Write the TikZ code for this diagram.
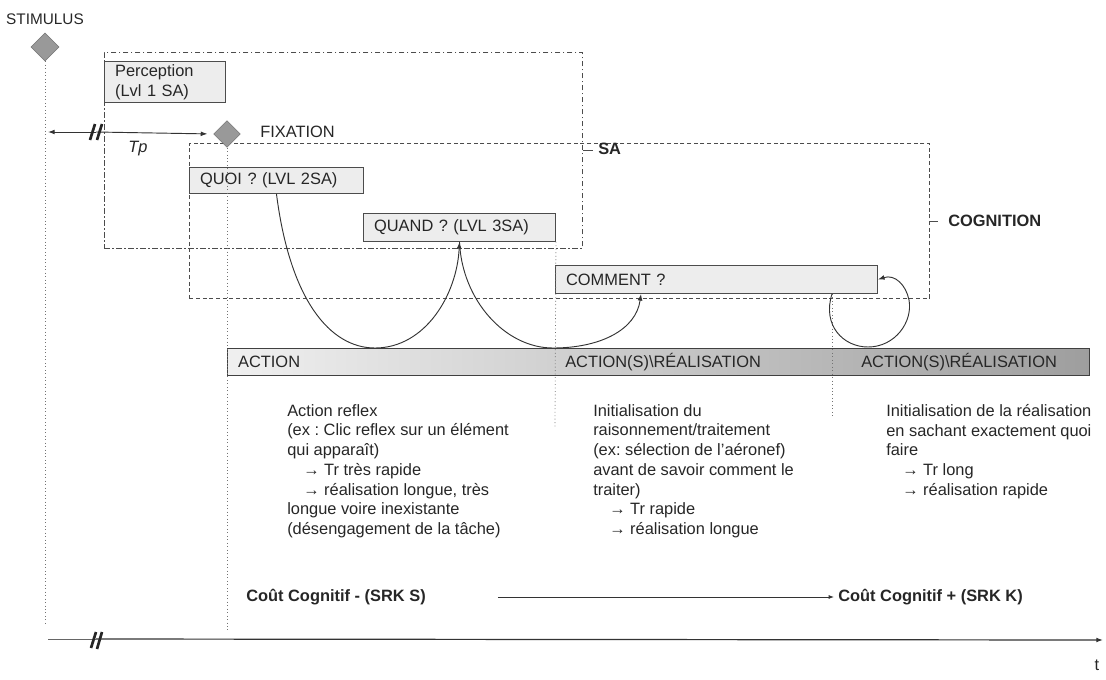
\documentclass[tikz,border=0pt]{standalone}
\usepackage{fontspec}
\setmainfont{Liberation Sans}
\usetikzlibrary{shapes.geometric,arrows.meta,calc}
\frenchspacing
\begin{document}
\begin{tikzpicture}[x=0.75pt,y=-0.75pt,
  every node/.style={font=\fontsize{12.3}{14.8}\selectfont\frenchspacing, text=black!85},
  lbox/.style={draw=black!70, line width=0.7pt, fill=black!7, anchor=north west, inner xsep=8pt, inner ysep=0pt, align=left},
  frame/.style={draw=black!70, line width=0.7pt, anchor=north west, inner sep=0pt},
  dia/.style={diamond, draw=black!55, fill=black!40, inner sep=0pt, minimum width=21pt, minimum height=21pt},
  vdot/.style={draw=black!55, dotted, line width=0.6pt},
  conn/.style={draw=black!80, line width=0.7pt},
  tip/.style={-{Latex[length=5pt,width=3.6pt]}},
  brk/.style={line width=2pt, draw=black!85},
  boldlbl/.style={font=\fontsize{12.3}{14.8}\selectfont\bfseries},
  body/.style={anchor=north west, inner sep=0pt, align=left},
]
\useasboundingbox (0,0) rectangle (1106,679);

% frames
\node[frame, dash pattern=on 4pt off 2pt on 1pt off 2pt, minimum width=358.5pt, minimum height=147pt] (saf) at (104,52) {};
\node[frame, dash pattern=on 3pt off 2pt, minimum width=555pt, minimum height=116.25pt] (cogf) at (189,143) {};
\draw[draw=black!70, line width=0.7pt] (saf.east) -- ++(10,0);
\draw[draw=black!70, line width=0.7pt] (cogf.east) -- ++(8,0);
\node[boldlbl, anchor=west, inner sep=0pt] (salbl) at (598,149) {SA};
\node[boldlbl, anchor=west, inner sep=0pt] (coglbl) at (948,221) {COGNITION};

% diamonds and top labels
\node[dia] (stim) at (45,47) {};
\node[font=\fontsize{11.5}{14}\selectfont] (stimlbl) at (45,19) {STIMULUS};
\node[dia, minimum width=20pt, minimum height=20pt] (fix) at (227,134) {};
\node[anchor=west, inner sep=0pt] (fixlbl) at (260,132) {FIXATION};

% boxes
\node[lbox, text width=75pt, minimum height=30.75pt] (perc) at (104,61) {Perception\\(Lvl 1 SA)};
\node[lbox, text width=114.5pt, minimum height=19.5pt] (quoi) at (189,167) {QUOI ? (LVL 2SA)};
\node[lbox, text width=128pt, minimum height=21pt] (quand) at (363,213) {QUAND ? (LVL 3SA)};
\node[lbox, text width=225.5pt, minimum height=21pt] (comment) at (555,265) {COMMENT ?};
\node[lbox, draw=black!75, shading=axis, left color=black!6, right color=black!38, text width=630.5pt, minimum height=20.25pt] (bar) at (227,348) {ACTION};
\node[anchor=west, inner sep=0pt] (bar2) at (565,362) {ACTION(S)\textbackslash RÉALISATION};
\node[anchor=west, inner sep=0pt] (bar3) at (861,362) {ACTION(S)\textbackslash RÉALISATION};

% dotted verticals
\coordinate (stimEnd) at (45,625);
\coordinate (fixEnd) at (227,630);
\coordinate (quandEnd) at (555,427);
\coordinate (loopStart) at ($(comment.south west)+(277,0)$);
\coordinate (loopEnd) at (832,418);
\draw[vdot] (stim.south) -- (stimEnd);
\draw[vdot] (fix.south) -- (fixEnd);
\draw[vdot] (quand.south east) -- (quandEnd);
\draw[vdot] (loopStart) -- (loopEnd);

% Tp
\coordinate (tpL) at (48,132);
\coordinate (tpB) at (96,132);
\draw[conn, tip] (tpB) -- (tpL);
\draw[conn, tip, shorten >=4.5pt] (tpB) -- (fix.west);
\draw[brk] (90,140) -- (95,124);
\draw[brk] (97,140) -- (102,124);
\node[font=\fontsize{12.3}{14.8}\selectfont\itshape] (tp) at (138,149) {Tp};

% curves
\draw[conn, tip] (quoi.south) .. controls (290,300) and (330,348) .. (375,348)
  .. controls (425,348) and (457,295) .. (quand.south);
\draw[conn, tip] (quand.south) .. controls (462,300) and (505,348) .. (553,348)
  .. controls (600,348) and (636,330) .. ($(comment.south west)+(86,0)$);
\draw[conn, tip] (loopStart) .. controls (822,325) and (843,347) .. (868,347)
  .. controls (895,347) and (913,322) .. (909,300)
  .. controls (906,285) and (895,274) .. (comment.east);

% body texts
\node[body] (txt1) at (287,404) {Action reflex\\(ex : Clic reflex sur un élément\\qui apparaît)\\\hspace*{12pt}→ Tr très rapide\\\hspace*{12pt}→ réalisation longue, très\\longue voire inexistante\\(désengagement de la tâche)};
\node[body] (txt2) at (593,404) {Initialisation du\\raisonnement/traitement\\(ex: sélection de l’aéronef)\\avant de savoir comment le\\traiter)\\\hspace*{12pt}→ Tr rapide\\\hspace*{12pt}→ réalisation longue};
\node[body] (txt3) at (886,404) {Initialisation de la réalisation\\en sachant exactement quoi\\faire\\\hspace*{12pt}→ Tr long\\\hspace*{12pt}→ réalisation rapide};

% cost
\node[boldlbl, anchor=west, inner sep=0pt] (costlo) at (246,597) {Coût Cognitif - (SRK S)};
\node[boldlbl, anchor=west, inner sep=0pt] (costhi) at (838,597) {Coût Cognitif + (SRK K)};
\draw[conn, -{Latex[length=4pt,width=3pt]}, shorten <=54pt, shorten >=3pt] (costlo.east) -- (costhi.west);

% time axis
\coordinate (ax0) at (48,639);
\coordinate (axb) at (96,639);
\coordinate (ax1) at (1103,640);
\draw[draw=black!60, line width=0.6pt] (ax0) -- (axb);
\draw[conn, line width=0.9pt, tip] (axb) -- (ax1);
\draw[brk] (91,648) -- (96,632);
\draw[brk] (97,649) -- (102,632);
\node (tlbl) at (1097,665) {t};
\end{tikzpicture}
\end{document}
